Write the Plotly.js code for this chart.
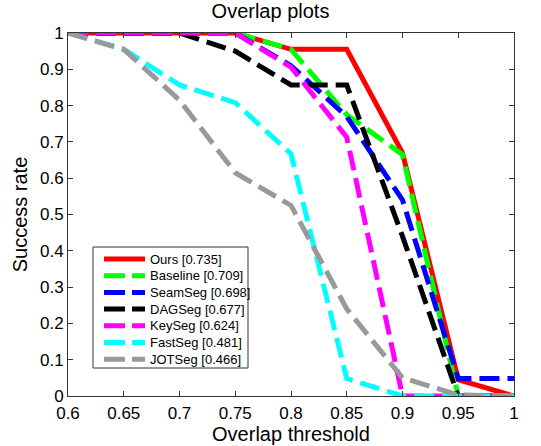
<!DOCTYPE html>
<html><head><meta charset="utf-8">
<script src="https://cdn.plot.ly/plotly-3.0.1.min.js"></script>
<style>html,body{margin:0;padding:0;background:#fff}#chart{width:541px;height:446px}</style>
</head><body><div id="chart"></div>
<script>
var thresholds = [0.6, 0.65, 0.7, 0.75, 0.8, 0.85, 0.9, 0.95, 1.0];
var seriesNames = ['Ours [0.735]', 'Baseline [0.709]', 'SeamSeg [0.698]', 'DAGSeg [0.677]', 'KeySeg [0.624]', 'FastSeg [0.481]', 'JOTSeg [0.466]'];
var ours     = [1, 1, 1, 1, 0.955, 0.955, 0.67, 0.045, 0.0];
var baseline = [1, 1, 1, 1, 0.955, 0.775, 0.665, 0.0, 0.0];
var seamseg  = [1, 1, 1, 1, 0.91, 0.77, 0.54, 0.048, 0.048];
var dagseg   = [1, 1, 1, 0.95, 0.857, 0.857, 0.44, 0.0, 0.0];
var keyseg   = [1, 1, 1, 1, 0.906, 0.713, 0.0, 0.0, 0.0];
var fastseg  = [1, 0.955, 0.857, 0.808, 0.667, 0.048, 0.0, 0.0, 0.0];
var jotseg   = [1, 0.955, 0.815, 0.615, 0.525, 0.24, 0.05, 0.003, 0.0];
var colors = ['#ff0000', '#00ff00', '#0000ff', '#000000', '#ff00ff', '#00ffff', '#999999'];
var dashes = ['solid', '20px,8px', '20px,8px', '20px,8px', '20px,8px', '20px,8px', '20px,8px'];
var allY = [ours, baseline, seamseg, dagseg, keyseg, fastseg, jotseg];

var font = 'Liberation Sans, Arial, Helvetica, sans-serif';
var traces = allY.map(function(y, i) {
  return {x: thresholds, y: y, type: 'scatter', mode: 'lines', name: seriesNames[i],
    line: {color: colors[i], width: 5, dash: dashes[i]}};
});

// Plot area in pixels (for placing the legend box in paper coordinates)
var L = 68, T = 33, W = 446, H = 363;
function px(x) { return (x - L) / W; }
function py(y) { return (T + H - y) / H; }

var shapes = [{type: 'rect', xref: 'paper', yref: 'paper', layer: 'above',
  x0: px(93), x1: px(248), y0: py(368), y1: py(247),
  line: {color: '#333', width: 1}, fillcolor: '#fff'}];
var annotations = [];
seriesNames.forEach(function(name, i) {
  var rowY = 259 + i * 16.7;
  shapes.push({type: 'line', xref: 'paper', yref: 'paper', layer: 'above',
    x0: px(104), x1: px(145), y0: py(rowY), y1: py(rowY),
    line: {color: colors[i], width: 5, dash: i === 0 ? 'solid' : '21px,7px'}});
  annotations.push({xref: 'paper', yref: 'paper', x: px(148), y: py(rowY),
    xanchor: 'left', yanchor: 'middle', showarrow: false, text: name,
    font: {family: font, size: 13, color: '#000'}});
});

var axisBase = {showgrid: false, zeroline: false, showline: true, linecolor: '#333', linewidth: 1,
  mirror: 'ticks', ticks: 'inside', ticklen: 5, tickcolor: '#333',
  tickfont: {family: font, size: 17, color: '#000'}};
var layout = {
  width: 541, height: 446,
  margin: {l: 68, r: 27, t: 33, b: 50},
  paper_bgcolor: '#fff', plot_bgcolor: '#fff',
  title: {text: 'Overlap plots', font: {family: font, size: 20, color: '#000'}, x: 0.5, xanchor: 'center', y: 0.975, yanchor: 'middle'},
  xaxis: Object.assign({}, axisBase, {range: [0.6, 1.0], dtick: 0.05, tick0: 0.6, ticklabelstandoff: 2,
    title: {text: 'Overlap threshold', font: {family: font, size: 20, color: '#000'}, standoff: 2}}),
  yaxis: Object.assign({}, axisBase, {range: [0, 1], dtick: 0.1, tick0: 0,
    title: {text: 'Success rate', font: {family: font, size: 20, color: '#000'}, standoff: 6}}),
  showlegend: false,
  shapes: shapes,
  annotations: annotations
};
Plotly.newPlot('chart', traces, layout, {staticPlot: true, displayModeBar: false});
</script></body></html>
